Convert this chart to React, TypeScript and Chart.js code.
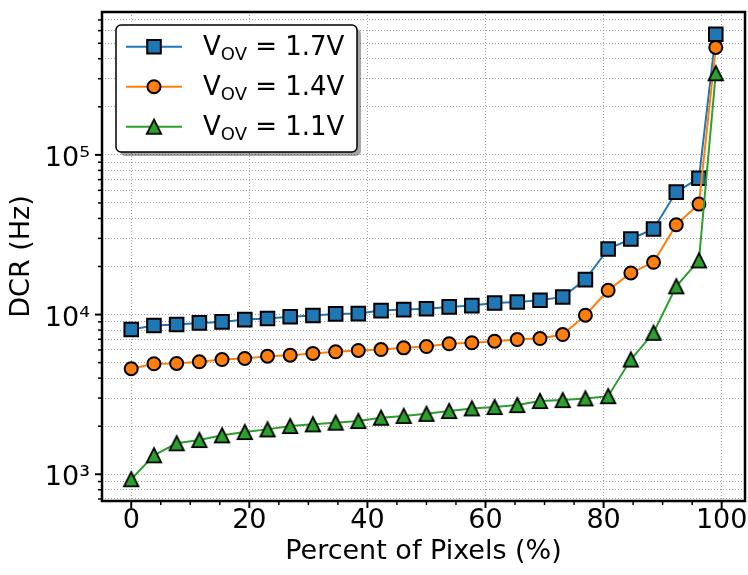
import React, { useEffect, useRef } from 'react';
import { Chart, registerables } from 'chart.js';

Chart.register(...registerables);

// ---- data ----
const pixelShare = [0, 3.85, 7.69, 11.54, 15.38, 19.23, 23.08, 26.92, 30.77, 34.62, 38.46, 42.31, 46.15, 50, 53.85, 57.69, 61.54, 65.38, 69.23, 73.08, 76.92, 80.77, 84.62, 88.46, 92.31, 96.15, 99];
const dcr17 = [8060, 8540, 8660, 8870, 9000, 9300, 9440, 9680, 9860, 10100, 10140, 10590, 10740, 10880, 11170, 11380, 11830, 12000, 12280, 12900, 16550, 25760, 29730, 34330, 58480, 71450, 570000];
const dcr14 = [4580, 4920, 4940, 5060, 5230, 5310, 5490, 5570, 5710, 5850, 5960, 6040, 6190, 6310, 6560, 6660, 6810, 6980, 7080, 7500, 9910, 14190, 18230, 21250, 36520, 49200, 471000];
const dcr11 = [931, 1315, 1563, 1638, 1753, 1838, 1910, 2005, 2054, 2104, 2154, 2260, 2320, 2390, 2488, 2585, 2636, 2712, 2874, 2914, 2985, 3084, 5230, 7690, 15030, 21840, 324600];
const seriesLabels = ['V_OV = 1.7V', 'V_OV = 1.4V', 'V_OV = 1.1V'];
const xTickValues = [0, 20, 40, 60, 80, 100];
const xMinorStep = 5;
const xRange = [-4.95, 103.95];
const yRange = [680, 785000];
const xTitle = 'Percent of Pixels (%)';
const yTitle = 'DCR (Hz)';

const BLUE = '#1f77b4';
const ORANGE = '#ff7f0e';
const GREEN = '#2ca02c';
const FONT = "'DejaVu Sans', sans-serif";
const SUP: Record<string, string> = { '0': '⁰', '1': '¹', '2': '²', '3': '³', '4': '⁴', '5': '⁵', '6': '⁶', '7': '⁷', '8': '⁸', '9': '⁹' };

const isDecade = (v: number) => Math.abs(Math.log10(v) - Math.round(Math.log10(v))) < 1e-9;

function logTicks(min: number, max: number) {
  const out: number[] = [];
  for (let e = Math.floor(Math.log10(min)); e <= Math.ceil(Math.log10(max)); e++) {
    for (let m = 1; m <= 9; m++) {
      const v = m * Math.pow(10, e);
      if (v >= min && v <= max) out.push(v);
    }
  }
  return out;
}

function makeTriangle(color: string) {
  const c = document.createElement('canvas');
  c.width = 22;
  c.height = 22;
  const ctx = c.getContext('2d')!;
  const h = 7.2;
  const cx = 11, cy = 11;
  ctx.beginPath();
  ctx.moveTo(cx, cy - h);
  ctx.lineTo(cx - h, cy + h);
  ctx.lineTo(cx + h, cy + h);
  ctx.closePath();
  ctx.fillStyle = color;
  ctx.fill();
  ctx.lineWidth = 1.8;
  ctx.strokeStyle = '#000';
  ctx.lineJoin = 'miter';
  ctx.stroke();
  return c;
}

function drawMarker(ctx: CanvasRenderingContext2D, ds: any, x: number, y: number) {
  const style = ds.pointStyle;
  if (style && typeof style === 'object') {
    ctx.drawImage(style, x - style.width / 2, y - style.height / 2);
    return;
  }
  const r = ds.pointRadius;
  ctx.beginPath();
  if (style === 'rect') {
    const s = Math.SQRT1_2 * r;
    ctx.rect(x - s, y - s, 2 * s, 2 * s);
  } else {
    ctx.arc(x, y, r, 0, Math.PI * 2);
  }
  ctx.fillStyle = ds.pointBackgroundColor;
  ctx.fill();
  ctx.lineWidth = ds.pointBorderWidth;
  ctx.strokeStyle = ds.pointBorderColor;
  ctx.stroke();
}

function roundRectPath(ctx: CanvasRenderingContext2D, x: number, y: number, w: number, h: number, r: number) {
  ctx.beginPath();
  ctx.moveTo(x + r, y);
  ctx.arcTo(x + w, y, x + w, y + h, r);
  ctx.arcTo(x + w, y + h, x, y + h, r);
  ctx.arcTo(x, y + h, x, y, r);
  ctx.arcTo(x, y, x + w, y, r);
  ctx.closePath();
}

const decorPlugin = {
  id: 'decor',
  afterDraw(chart: any) {
    const { ctx, chartArea: a, scales } = chart;
    ctx.save();
    ctx.strokeStyle = '#000';
    // y ticks (major + minor)
    const ys = scales.y;
    ys.ticks.forEach((t: any) => {
      const py = ys.getPixelForValue(t.value);
      const major = isDecade(t.value);
      ctx.lineWidth = major ? 2 : 1.5;
      const len = major ? 7 : 4;
      ctx.beginPath();
      ctx.moveTo(a.left - len, py);
      ctx.lineTo(a.left, py);
      ctx.stroke();
    });
    // x ticks
    const xs = scales.x;
    for (let v = Math.ceil(xs.min / xMinorStep) * xMinorStep; v <= xs.max; v += xMinorStep) {
      const px = xs.getPixelForValue(v);
      const major = xTickValues.includes(v);
      ctx.lineWidth = major ? 2 : 1.5;
      const len = major ? 7 : 4;
      ctx.beginPath();
      ctx.moveTo(px, a.bottom);
      ctx.lineTo(px, a.bottom + len);
      ctx.stroke();
    }
    // frame
    ctx.lineWidth = 2.5;
    ctx.strokeRect(a.left, a.top, a.right - a.left, a.bottom - a.top);

    // legend
    const lx = a.left + 14;
    const ly = a.top + 13;
    const lw = 241;
    const lh = 127;
    ctx.fillStyle = 'rgba(0,0,0,0.35)';
    roundRectPath(ctx, lx + 4, ly + 4, lw, lh, 5);
    ctx.fill();
    roundRectPath(ctx, lx, ly, lw, lh, 5);
    ctx.fillStyle = '#fff';
    ctx.fill();
    ctx.lineWidth = 1.5;
    ctx.strokeStyle = '#000';
    ctx.stroke();

    chart.data.datasets.forEach((ds: any, i: number) => {
      const rowY = ly + 21.7 + i * 40;
      ctx.beginPath();
      ctx.moveTo(lx + 10, rowY);
      ctx.lineTo(lx + 66, rowY);
      ctx.lineWidth = ds.borderWidth;
      ctx.strokeStyle = ds.borderColor;
      ctx.stroke();
      drawMarker(ctx, ds, lx + 38, rowY);
      const m = String(ds.label).match(/^(.*?)_(\S+)(.*)$/);
      const base = rowY + 8.5;
      let tx = lx + 87;
      ctx.fillStyle = '#000';
      ctx.textBaseline = 'alphabetic';
      ctx.textAlign = 'left';
      if (m) {
        ctx.font = `26px ${FONT}`;
        ctx.fillText(m[1], tx, base);
        tx += ctx.measureText(m[1]).width;
        ctx.font = `18px ${FONT}`;
        ctx.fillText(m[2], tx, base + 5);
        tx += ctx.measureText(m[2]).width;
        ctx.font = `26px ${FONT}`;
        ctx.fillText(m[3], tx, base);
      } else {
        ctx.font = `26px ${FONT}`;
        ctx.fillText(String(ds.label), tx, base);
      }
    });
    ctx.restore();
  },
};

export default function App() {
  const ref = useRef<HTMLCanvasElement>(null);

  useEffect(() => {
    if (!ref.current) return;
    Chart.defaults.font.family = FONT;
    Chart.defaults.color = '#000';
    const tri = makeTriangle(GREEN);
    const mk = (label: string, data: number[], color: string, style: any, radius: number, order: number) => ({
      label,
      data: pixelShare.map((x, i) => ({ x, y: data[i] })),
      borderColor: color,
      backgroundColor: color,
      borderWidth: 2,
      pointStyle: style,
      pointRadius: radius,
      pointHoverRadius: radius,
      pointBackgroundColor: color,
      pointBorderColor: '#000',
      pointBorderWidth: 2,
      tension: 0,
      order,
    });
    const tickFont = { family: FONT, size: 27 };
    const chart = new Chart(ref.current, {
      type: 'line',
      data: {
        datasets: [
          mk(seriesLabels[0], dcr17, BLUE, 'rect', 9.6, 2),
          mk(seriesLabels[1], dcr14, ORANGE, 'circle', 6.5, 1),
          mk(seriesLabels[2], dcr11, GREEN, tri, 8, 0),
        ],
      },
      options: {
        responsive: false,
        devicePixelRatio: 1,
        animation: false,
        layout: { autoPadding: false, padding: { left: 0, right: 3, top: 12, bottom: 0 } },
        plugins: { legend: { display: false }, tooltip: { enabled: false } },
        scales: {
          x: {
            type: 'linear',
            min: xRange[0],
            max: xRange[1],
            bounds: 'data',
            afterBuildTicks: (s: any) => {
              s.ticks = xTickValues.map((v) => ({ value: v }));
            },
            afterFit: (s: any) => {
              s.height = 74;
              s.paddingLeft = 0;
              s.paddingRight = 0;
            },
            grid: { color: '#a0a0a0', lineWidth: 1, drawTicks: false },
            border: { display: false, dash: [1, 2] },
            ticks: { font: tickFont, color: '#000', padding: 4, maxRotation: 0, autoSkip: false },
            title: { display: true, text: xTitle, font: tickFont, color: '#000', padding: { top: 0, bottom: 7 } },
          },
          y: {
            type: 'logarithmic',
            min: yRange[0],
            max: yRange[1],
            bounds: 'data',
            afterBuildTicks: (s: any) => {
              s.ticks = logTicks(yRange[0], yRange[1]).map((v) => ({ value: v }));
            },
            afterFit: (s: any) => {
              s.width = 102;
              s.paddingTop = 0;
              s.paddingBottom = 0;
            },
            grid: { color: '#a0a0a0', lineWidth: 1, drawTicks: false },
            border: { display: false, dash: [1, 2] },
            ticks: {
              font: tickFont,
              color: '#000',
              padding: 12,
              labelOffset: 4,
              autoSkip: false,
              callback: (v: any) => {
                const n = Number(v);
                if (!isDecade(n)) return '';
                const e = String(Math.round(Math.log10(n)));
                return '10' + e.split('').map((d) => SUP[d]).join('');
              },
            },
            title: { display: true, text: yTitle, font: tickFont, color: '#000', padding: { top: 6, bottom: 0 } },
          },
        },
      },
      plugins: [decorPlugin],
    } as any);
    return () => chart.destroy();
  }, []);

  return (
    <div style={{ position: 'fixed', left: 0, top: 0, width: 748, height: 575, background: '#fff' }}>
      <canvas ref={ref} width={748} height={575} style={{ display: 'block' }} />
    </div>
  );
}
